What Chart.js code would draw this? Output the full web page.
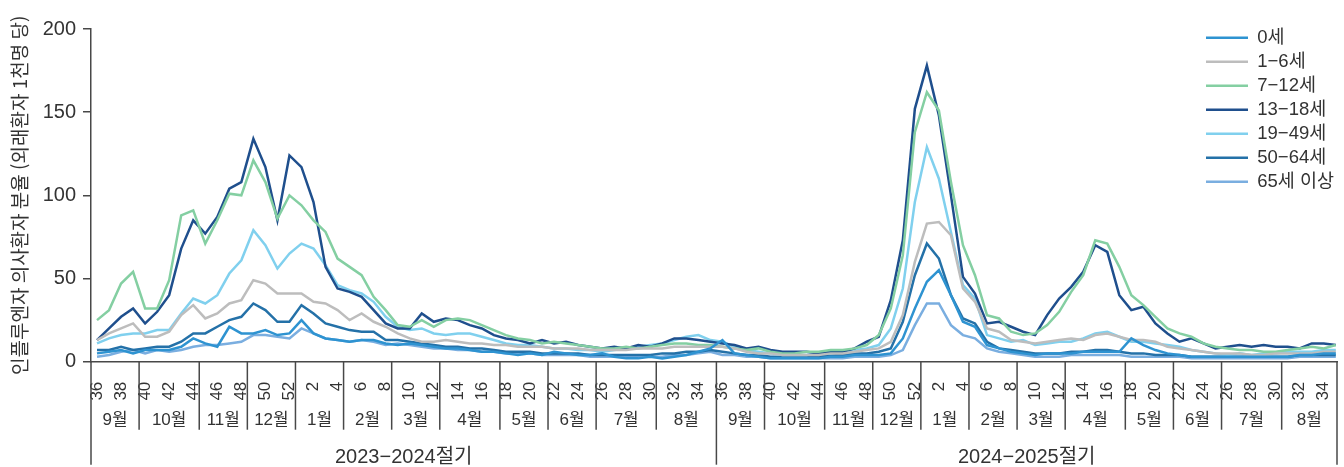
<!DOCTYPE html>
<html lang="ko">
<head>
<meta charset="utf-8">
<title>연령별 인플루엔자 의사환자 분율</title>
<script src="https://cdn.jsdelivr.net/npm/chart.js@4.4.1/dist/chart.umd.min.js"></script>
<style>
  html, body { margin: 0; padding: 0; background: #fff; }
</style>
</head>
<body>
<canvas id="ili" width="1344" height="467"></canvas>
<script>
// weeks of one season (36..52, then 1..35), repeated for the two seasons
const weekNums = [36,37,38,39,40,41,42,43,44,45,46,47,48,49,50,51,52,
  1,2,3,4,5,6,7,8,9,10,11,12,13,14,15,16,17,18,19,20,21,22,23,24,25,26,27,28,29,30,31,32,33,34,35];
const weeks = weekNums.concat(weekNums);

const monthStartWeeks = [36, 40, 45, 49, 1, 5, 9, 13, 18, 22, 26, 31];
const monthNames = ['9월','10월','11월','12월','1월','2월','3월','4월','5월','6월','7월','8월'];
const seasons = ['2023−2024절기', '2024−2025절기'];

// 인플루엔자 의사환자 분율 (외래환자 1천명 당)
const age0 = [5,6,7,5,7,7,7,9,14,11,9,21,17,17,19,16,17,25,17,14,13,12,13,13,11,10,11,10,9,8,8,7,6,6,5,4,5,4,6,5,4,4,5,3,2,2,3,2,3,4,6,8,
  13,5,4,3,2,2,2,2,2,3,3,4,4,4,5,14,32,48,55,40,24,21,10,8,6,5,4,5,5,5,6,6,6,6,14,10,7,5,4,3,3,3,3,3,3,3,3,3,4,4,5,5];
const age1_6 = [13,17,20,23,15,15,18,28,34,26,29,35,37,49,47,41,41,41,36,35,31,25,29,24,21,17,14,12,12,13,12,11,11,10,10,9,9,9,8,8,8,7,7,7,7,8,8,8,9,9,9,9,
  9,8,6,5,5,4,4,4,4,5,5,6,7,8,12,28,60,83,84,76,44,36,20,18,13,12,11,12,13,14,13,16,17,15,13,13,12,9,8,7,6,5,5,5,4,4,5,5,5,5,6,6];
const age7_12 = [25,31,47,54,32,32,49,88,91,71,85,101,100,121,108,86,100,94,85,78,62,57,52,39,31,22,21,25,21,25,26,25,22,19,16,14,13,11,12,11,10,9,8,8,9,8,9,10,11,11,10,10,
  9,8,7,8,6,5,5,6,6,7,7,8,10,16,32,64,138,162,151,108,70,52,28,26,18,16,17,22,30,42,52,73,71,57,40,34,27,20,17,15,11,9,8,7,7,6,6,7,8,9,8,10];
const age13_18 = [13,20,27,32,23,30,40,68,85,77,87,104,108,134,117,85,124,117,96,57,44,42,39,31,23,20,20,29,24,26,25,22,20,16,14,13,11,13,11,12,10,9,8,9,8,10,9,11,14,14,13,12,
  11,10,8,9,7,6,6,6,5,6,6,8,12,15,37,73,152,178,148,100,51,41,23,24,21,18,16,28,38,45,54,70,66,40,31,33,23,17,12,14,11,8,9,10,9,10,9,9,8,11,11,10];
const age19_49 = [11,14,16,17,17,19,19,29,38,35,40,53,61,79,70,56,65,71,68,58,46,43,41,36,27,21,19,20,17,16,17,17,15,13,11,10,10,9,8,8,7,7,6,7,8,9,10,11,13,15,16,13,
  12,9,7,6,5,4,4,4,5,5,6,7,8,10,20,44,96,129,110,78,46,38,16,14,12,13,10,11,12,12,14,17,18,15,12,12,11,10,9,7,6,5,4,5,4,5,5,6,6,6,7,7];
const age50_64 = [7,7,9,7,8,9,9,12,17,17,21,25,27,35,31,24,24,34,29,23,21,19,18,18,13,13,12,11,10,9,9,8,8,7,6,6,6,5,5,5,5,4,4,4,4,4,4,5,5,6,6,7,
  6,5,4,4,3,3,3,3,3,4,4,5,5,6,8,24,52,71,62,40,26,23,12,8,7,6,5,5,5,6,6,7,7,6,5,5,4,4,4,3,3,3,3,3,3,3,3,3,4,4,4,4];
const age65 = [3,4,6,7,5,7,6,7,9,10,10,11,12,16,16,15,14,20,17,14,13,12,13,12,10,11,10,9,8,8,7,7,6,6,5,5,5,4,4,4,4,3,3,3,3,3,3,3,4,4,5,6,
  4,4,3,3,2,2,2,2,2,2,2,3,3,3,4,7,22,35,35,22,16,14,8,6,5,4,3,3,3,4,4,4,4,4,3,3,3,3,3,2,2,2,2,2,2,2,2,2,3,3,3,3];

const ageLabels = ['0세', '1−6세', '7−12세', '13−18세', '19−49세', '50−64세', '65세 이상'];
const ageValues = [age0, age1_6, age7_12, age13_18, age19_49, age50_64, age65];
const ageColors = ['#2e93d1', '#bdbdbd', '#84cfa2', '#1f4f8d', '#80d0ee', '#2471a8', '#7aaee0'];

const yTitle = '인플루엔자 의사환자 분율 (외래환자 1천명 당)';

const FONT = "'Liberation Sans', Arial, 'Noto Sans CJK KR', sans-serif";
const INK = '#333333';
const AXIS = '#484848';
const X_MAX = 103.6;

Chart.defaults.font.family = FONT;
Chart.defaults.color = INK;

// month separators, month names and season names under the week ticks
const monthAxis = {
  id: 'monthAxis',
  afterDraw(chart) {
    const { ctx, chartArea, scales: { x } } = chart;
    const base = chartArea.bottom;
    const vline = (px, len) => {
      ctx.beginPath();
      ctx.moveTo(px, base);
      ctx.lineTo(px, base + len);
      ctx.stroke();
    };
    ctx.save();
    ctx.strokeStyle = AXIS;
    ctx.lineWidth = 1.5;
    ctx.fillStyle = INK;
    ctx.textAlign = 'center';
    ctx.textBaseline = 'middle';
    seasons.forEach((name, s) => {
      const start = s * weekNums.length;
      const end = Math.min(start + weekNums.length, X_MAX);
      const bounds = monthStartWeeks.map(w => start + weekNums.indexOf(w)).concat(end);
      ctx.font = '17px ' + FONT;
      monthNames.forEach((m, k) => {
        const a = x.getPixelForValue(bounds[k]);
        const b = x.getPixelForValue(bounds[k + 1]);
        if (k > 0) vline(a, 68);
        ctx.fillText(m, (a + b) / 2, base + 59);
      });
      ctx.font = '20px ' + FONT;
      ctx.fillText(name, (x.getPixelForValue(start) + x.getPixelForValue(end)) / 2, base + 96);
    });
    [0, weekNums.length, X_MAX].forEach(v => vline(x.getPixelForValue(v), 103));
    ctx.restore();
  }
};

// put the legend in the upper right corner of the plot
const legendSpot = {
  id: 'legendSpot',
  afterLayout(chart) {
    const lg = chart.legend;
    lg.left = 1200.5;
    lg.top = 23;
    lg.right = lg.left + lg.width;
    lg.bottom = lg.top + lg.height;
  }
};

new Chart(document.getElementById('ili'), {
  type: 'line',
  data: {
    datasets: ageLabels.map((label, k) => ({
      label: label,
      data: ageValues[k].map((v, i) => ({ x: i + 0.5, y: v })),
      borderColor: ageColors[k],
      backgroundColor: ageColors[k],
      borderWidth: 2.5,
      pointRadius: 0,
      tension: 0
    }))
  },
  options: {
    responsive: false,
    animation: false,
    devicePixelRatio: 1,
    layout: { padding: { top: 29, right: 7, bottom: 0, left: 0 } },
    plugins: {
      tooltip: { enabled: false },
      legend: {
        position: 'chartArea',
        align: 'start',
        labels: {
          usePointStyle: true,
          pointStyle: 'line',
          pointStyleWidth: 42,
          boxWidth: 42,
          padding: 5.5,
          color: INK,
          font: { size: 18.5 }
        }
      }
    },
    scales: {
      x: {
        type: 'linear',
        min: 0,
        max: X_MAX,
        grid: { display: false },
        border: { display: true, color: AXIS, width: 1.5 },
        afterBuildTicks: s => { s.ticks = weeks.map((w, i) => ({ value: i + 0.5 })); },
        afterFit: s => { s.height = 105.3; s.paddingLeft = 0; s.paddingRight = 0; },
        ticks: {
          autoSkip: false,
          minRotation: 90,
          maxRotation: 90,
          padding: 12,
          color: INK,
          font: { size: 17 },
          callback: v => {
            const w = weeks[Math.floor(v)];
            return w % 2 === 0 ? String(w) : '';
          }
        }
      },
      y: {
        min: 0,
        max: 200,
        ticks: { stepSize: 50, padding: 7, color: INK, font: { size: 20 } },
        grid: { drawOnChartArea: false, drawTicks: true, tickLength: 8, color: AXIS, lineWidth: 1.5 },
        border: { display: true, color: AXIS, width: 1.5 },
        title: {
          display: true,
          text: yTitle,
          color: INK,
          font: { size: 19, family: "'Noto Sans CJK KR', sans-serif" },
          padding: { top: 8, bottom: 0 }
        },
        afterFit: s => { s.width = 91; s.paddingTop = 0; s.paddingBottom = 0; }
      }
    }
  },
  plugins: [monthAxis, legendSpot]
});
</script>
</body>
</html>
